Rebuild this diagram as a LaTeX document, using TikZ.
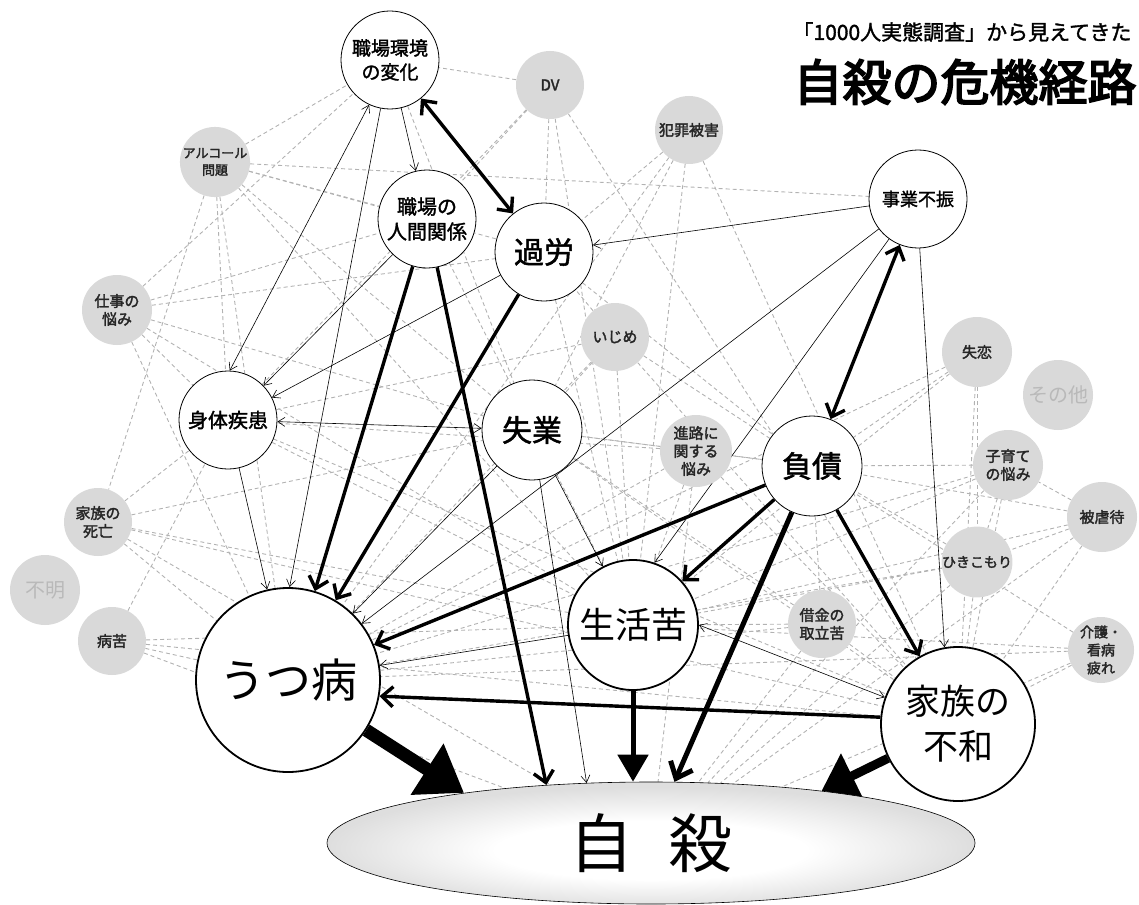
\documentclass[tikz,border=0pt]{standalone}
\usepackage{fontspec}
\setmainfont{Noto Sans CJK JP}[AutoFakeBold=1.6]
\newfontfamily\heavy{Noto Sans CJK JP}[FakeBold=3.5]
\newfontfamily\grayfont{Noto Sans CJK JP}[FakeBold=2.2]
\usetikzlibrary{arrows.meta,shapes.geometric}
\pgfdeclarelayer{bg}
\pgfdeclarelayer{mid}
\pgfsetlayers{bg,mid,main}
\pgfdeclareradialshading{ellshade}{\pgfpoint{0bp}{-4bp}}{color(0bp)=(white); color(12bp)=(white); color(25bp)=(black!13); color(50bp)=(black!13)}
\begin{document}
\begin{tikzpicture}[x=1pt,y=-1pt,
  wnode/.style={circle, draw=black, line width=0.8pt, fill=white, inner sep=0pt, align=center, text=black},
  bignode/.style={wnode, line width=1.8pt},
  gnode/.style={circle, fill=gray!30, inner sep=0pt, minimum size=68pt, align=center, text=black!85,
    font=\grayfont\fontsize{15}{18}\selectfont},
  fadednode/.style={gnode, text=gray!55, font=\fontsize{20}{22}\selectfont},
  dashln/.style={draw=gray!60, dash pattern=on 4pt off 3pt, line width=0.9pt},
  thinarr/.style={line width=0.6pt, -{Straight Barb[length=7pt,width=9pt]}},
  thinboth/.style={line width=0.6pt, {Straight Barb[length=7pt,width=9pt]}-{Straight Barb[length=7pt,width=9pt]}},
  thickarr/.style={line width=3.4pt, -{Straight Barb[length=11pt,width=20pt]}},
  thickboth/.style={line width=3.4pt, {Straight Barb[length=11pt,width=20pt]}-{Straight Barb[length=11pt,width=20pt]}}
]
\useasboundingbox (0,0) rectangle (1139,904);

% title
\node[font=\bfseries\fontsize{21}{23}\selectfont] (t1) at (962,32) {「1000人実態調査」から見えてきた};
\node[font=\heavy\fontsize{49}{52}\selectfont] (t2) at (965,82) {自殺の危機経路};

% gray factor nodes
\node[gnode] (dv) at (550,85) {DV};
\node[gnode] (hz) at (689,130) {犯罪被害};
\node[gnode, font=\grayfont\fontsize{13}{17}\selectfont] (al) at (215,162) {アルコール\\問題};
\node[gnode, minimum size=70pt] (sg) at (117,310) {仕事の\\悩み};
\node[gnode] (ij) at (615,337) {いじめ};
\node[gnode, minimum size=70pt] (sr) at (977,352) {失恋};
\node[fadednode, minimum size=70pt] (ot) at (1058,395) {その他};
\node[gnode, minimum size=72pt] (sn) at (696,451) {進路に\\関する\\悩み};
\node[gnode, minimum size=70pt] (ks) at (1008,465) {子育て\\の悩み};
\node[gnode, minimum size=70pt] (hg) at (1102,517) {被虐待};
\node[gnode] (kd) at (98,522) {家族の\\死亡};
\node[fadednode, minimum size=70pt] (fm) at (45,590) {不明};
\node[gnode] (bk) at (112,641) {病苦};
\node[gnode, minimum size=70pt, font=\grayfont\fontsize{14}{17}\selectfont] (hk) at (977,562) {ひきこもり};
\node[gnode] (sk) at (822,624) {借金の\\取立苦};
\node[gnode, minimum size=66pt, font=\grayfont\fontsize{14}{18}\selectfont] (kg) at (1101,650) {介護・\\看病\\疲れ};

% main nodes
\node[wnode, minimum size=98pt, font=\bfseries\fontsize{19}{24}\selectfont] (A) at (390,60) {職場環境\\の変化};
\node[wnode, minimum size=98pt, font=\bfseries\fontsize{20}{25}\selectfont] (B) at (427,219) {職場の\\人間関係};
\node[wnode, minimum size=98pt, font=\bfseries\fontsize{30}{34}\selectfont] (C) at (544,252) {過労};
\node[wnode, minimum size=98pt, font=\bfseries\fontsize{18}{22}\selectfont] (D) at (918,199) {事業不振};
\node[wnode, minimum size=98pt, font=\bfseries\fontsize{20}{24}\selectfont] (E) at (228,420) {身体疾患};
\node[wnode, minimum size=100pt, font=\bfseries\fontsize{30}{34}\selectfont] (F) at (532,430) {失業};
\node[wnode, minimum size=100pt, font=\bfseries\fontsize{30}{34}\selectfont] (G) at (812,466) {負債};
\node[bignode, minimum size=184pt, font=\fontsize{46}{50}\selectfont] (H) at (288,680) {うつ病};
\node[bignode, minimum size=130pt, font=\fontsize{36}{40}\selectfont] (I) at (633,625) {生活苦};
\node[bignode, minimum size=154pt, font=\fontsize{35}{45}\selectfont] (J) at (958,724) {家族の\\不和};
\node[ellipse, draw=black, line width=0.6pt, minimum width=648pt, minimum height=122pt,
  shading=ellshade, inner sep=0pt, font=\fontsize{64}{68}\selectfont] (K) at (651,843) {自\hspace{0.55em}殺};

% dashed web
\begin{pgfonlayer}{bg}
\foreach \a/\b in {al/A, al/D, al/C, al/B, al/E, al/H, al/F, al/kd, al/I,
  sg/A, sg/B, sg/C, sg/E, sg/H, sg/F, sg/I,
  dv/A, dv/B, dv/C, dv/E, dv/I, dv/J,
  hz/C, hz/H, hz/I, hz/J, hz/F,
  ij/C, ij/F, ij/H, ij/E, ij/I, ij/G, ij/J,
  sr/G, sr/J, sr/I, sr/H, sr/hk,
  sn/F, sn/H, sn/I, sn/G, sn/E, sn/J, sn/K,
  ks/G, ks/J, ks/I, ks/H, ks/hk, ks/K,
  hg/J, hg/G, hg/I, hg/hk, hg/ks, hg/K,
  kd/E, kd/H, kd/I, kd/J, kd/K, kd/F,
  bk/H, bk/E, bk/I, bk/K, bk/J,
  hk/G, hk/J, hk/I, hk/H, hk/K,
  sk/G, sk/I, sk/J, sk/K, sk/H, sk/F,
  kg/J, kg/G, kg/I, kg/H, kg/K,
  E/I, E/J, F/G, F/J, C/G, C/I, B/I, A/F}
  \draw[dashln] (\a) -- (\b);
\end{pgfonlayer}

% solid causal arrows
\begin{pgfonlayer}{mid}
% thin
\draw[thinarr] (A.259) -- (H.89);
\draw[thinarr] (A) -- (B);
\draw[thinboth] (A.245) -- (E.88);
\draw[thinarr] (B.226) -- (E.44);
\draw[thinarr] (C.208) -- (E.27);
\draw[thinarr] (E) -- (H);
\draw[thinboth] (E) -- (F);
\draw[thinarr] (D) -- (C);
\draw[thinarr] (D) -- (H);
\draw[thinarr] (D) -- (I.71);
\draw[thinarr] (D.-88) -- (J.100);
\draw[thinarr] (F) -- (H);
\draw[thinarr] (F) -- (I);
\draw[thinarr] (F) -- (K.137);
\draw[thinarr] (I) -- (H);
\draw[thinboth] (I.0) -- (J.160);
% thick
\draw[thickboth] (A) -- (C);
\draw[thickboth] (D) -- (G);
\draw[thickarr] (B) -- (H);
\draw[thickarr] (C) -- (H);
\draw[thickarr] (B) -- (K.151);
\draw[thickarr] (G) -- (H);
\draw[thickarr] (G) -- (I);
\draw[thickarr] (G) -- (J);
\draw[thickarr] (J.175) -- (H.-10);
\draw[line width=5pt, -{Straight Barb[length=14pt,width=24pt]}] (G) -- (K.69);
% into suicide, heavy
\draw[line width=5pt, -{Triangle[length=27pt,width=30pt]}] (I) -- (K.north -| I);
\draw[line width=9pt, -{Triangle[length=34pt,width=48pt]}] (J) -- (K.17);
\draw[line width=13pt, -{Triangle[length=44pt,width=58pt]}] (H) -- (K.165);
\end{pgfonlayer}
\end{tikzpicture}
\end{document}
